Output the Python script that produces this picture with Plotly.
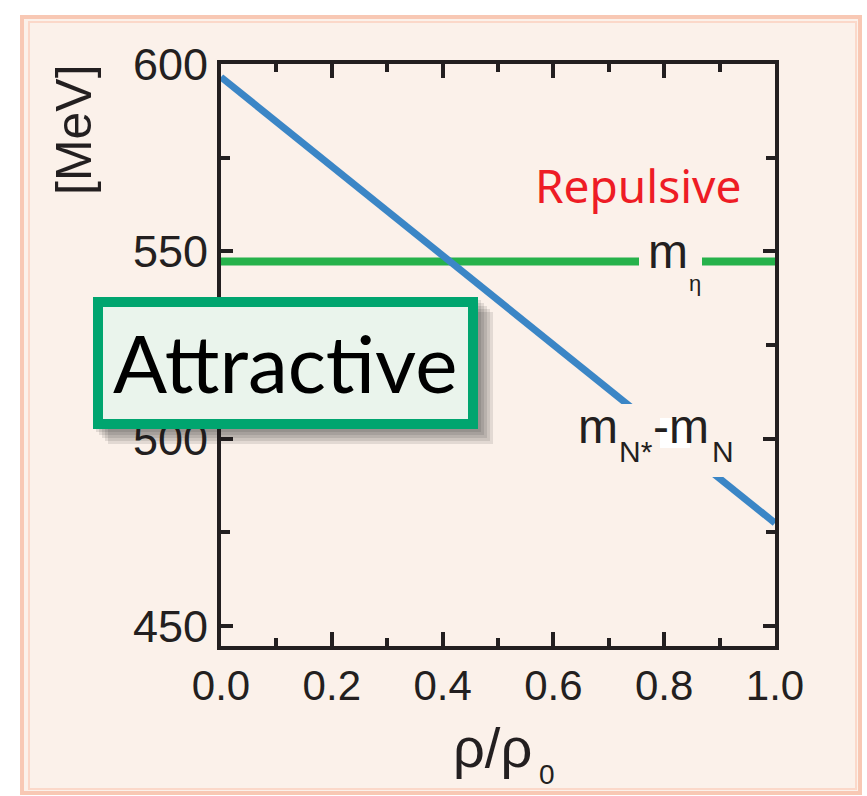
import plotly.graph_objects as go

# ---------------- data ----------------
rho = [0.0, 1.0]                       # rho / rho_0
m_eta = [547.3, 547.3]                 # eta mass [MeV]
m_diff = [596.5, 477.5]                # m_N* - m_N [MeV]
x_tickvals = [0.0, 0.2, 0.4, 0.6, 0.8, 1.0]
x_ticktext = ["0.0", "0.2", "0.4", "0.6", "0.8", "1.0"]
y_tickvals = [450, 500, 550, 600]
y_ticktext = ["450", "500", "550", "600"]

# ---------------- layout helpers ----------------
W, H = 867, 796
L, R, T, B = 221, 775, 64, 646     # plot area in pixels


def px(x):
    return (x - L) / (R - L)


def py(y):
    return (B - y) / (B - T)


PEACH = "#FBF1EA"
INK = "#231F20"

fig = go.Figure()
fig.add_trace(go.Scatter(x=rho, y=m_eta, mode="lines",
                         line=dict(color="#26B24B", width=8), showlegend=False))
fig.add_trace(go.Scatter(x=rho, y=m_diff, mode="lines",
                         line=dict(color="#3B86C6", width=7), showlegend=False))

shapes = []
# frame / page background
shapes.append(dict(type="rect", xref="paper", yref="paper", layer="below",
                   x0=px(22), x1=px(860), y0=py(17), y1=py(793),
                   fillcolor=PEACH, line=dict(color="#F8C8B4", width=4)))
shapes.append(dict(type="rect", xref="paper", yref="paper", layer="below",
                   x0=px(29), x1=px(856), y0=py(22), y1=py(789),
                   line=dict(color="#FBD8C9", width=2)))
# label backgrounds that break the curves
shapes.append(dict(type="rect", xref="paper", yref="paper", layer="above",
                   x0=px(639), x1=px(702), y0=py(248), y1=py(276),
                   fillcolor=PEACH, line=dict(width=0)))
shapes.append(dict(type="rect", xref="paper", yref="paper", layer="above",
                   x0=px(575), x1=px(735), y0=py(404), y1=py(477),
                   fillcolor=PEACH, line=dict(width=0)))
shapes.append(dict(type="rect", xref="paper", yref="paper", layer="above",
                   x0=px(660), x1=px(690), y0=py(418), y1=py(448),
                   fillcolor="white", line=dict(width=0)))
# shadow of the "Attractive" box
for o in [3, 6, 9, 12, 15]:
    shapes.append(dict(type="rect", xref="paper", yref="paper", layer="above",
                       x0=px(93 + o), x1=px(478 + o), y0=py(297 + o), y1=py(429 + o),
                       fillcolor="rgba(30,30,30,0.11)", line=dict(width=0)))
# the box itself
shapes.append(dict(type="rect", xref="paper", yref="paper", layer="above",
                   x0=px(98), x1=px(473), y0=py(302), y1=py(424),
                   fillcolor="#EAF4EC", line=dict(color="#00A56F", width=10)))


def ann(text, x, y, size, color=INK, family="Liberation Sans", xanchor="center",
        angle=0):
    return dict(text=text, x=px(x), y=py(y), xref="paper", yref="paper",
                showarrow=False, xanchor=xanchor, yanchor="middle",
                textangle=angle, font=dict(size=size, color=color, family=family))


annotations = [
    ann("Attractive", 285.5, 362, 80, color="black", family="Lato"),
    ann("Repulsive", 637.5, 185, 46, color="#EE1C25", family="Noto Sans"),
    ann("m", 646, 252, 48, xanchor="left"),
    ann("η", 687, 283, 22, xanchor="left"),
    ann("m", 576, 426, 48, xanchor="left"),
    ann("N*", 617, 451, 30, xanchor="left"),
    ann("-m", 651, 426, 48, xanchor="left"),
    ann("N", 710, 451, 30, xanchor="left"),
    ann("ρ/ρ", 492, 747, 56),
    ann("0", 537, 774, 28, xanchor="left"),
    ann("[MeV]", 74, 130, 50, angle=-90),
]

axis_common = dict(showgrid=False, zeroline=False, showline=True, linewidth=4,
                   linecolor=INK, mirror="allticks", ticks="inside", tickwidth=4,
                   tickcolor=INK)

fig.update_layout(
    width=W, height=H,
    margin=dict(l=L, r=W - R, t=T, b=H - B),
    paper_bgcolor="white", plot_bgcolor="rgba(0,0,0,0)",
    showlegend=False,
    xaxis=dict(range=[0, 1], tickvals=x_tickvals, ticktext=x_ticktext, ticklen=14,
               tickfont=dict(family="Liberation Sans", size=42, color=INK),
               minor=dict(ticks="inside", ticklen=8, tickwidth=4, tickcolor=INK,
                          tick0=0, dtick=0.1),
               **axis_common),
    yaxis=dict(range=[444.7, 600], tickvals=y_tickvals, ticktext=y_ticktext, ticklen=12,
               tickfont=dict(family="Liberation Sans", size=45, color=INK),
               minor=dict(ticks="inside", ticklen=9, tickwidth=4, tickcolor=INK,
                          tick0=450, dtick=25),
               **axis_common),
    shapes=shapes,
    annotations=annotations,
)

fig.write_html("out.html")
